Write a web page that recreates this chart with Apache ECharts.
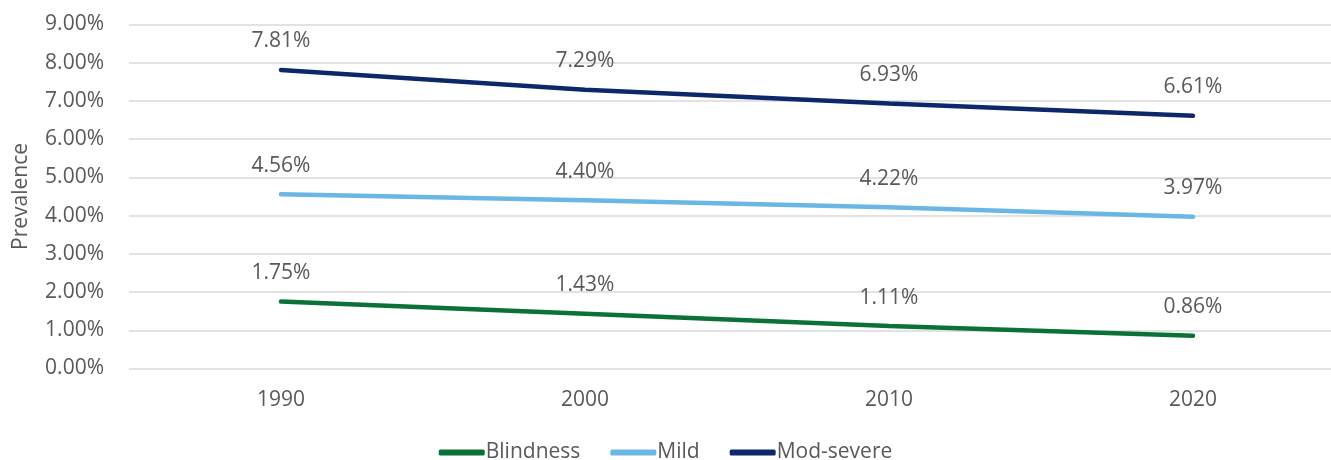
<!DOCTYPE html>
<html><head><meta charset="utf-8">
<script src="https://cdn.jsdelivr.net/npm/echarts@6/dist/echarts.min.js"></script>
<style>html,body{margin:0;padding:0;background:#fff}#c{width:1331px;height:460px}</style>
</head><body><div id="c"></div>
<script>
const categories = ['1990', '2000', '2010', '2020'];
const blindness = [1.75, 1.43, 1.11, 0.86];
const mild = [4.56, 4.40, 4.22, 3.97];
const modSevere = [7.81, 7.29, 6.93, 6.61];
const seriesNames = ['Blindness', 'Mild', 'Mod-severe'];
const colors = ['#0B7137', '#6AB7E6', '#0D276B'];
const FONT = '"Open Sans", "Noto Sans", sans-serif';
const TXT = '#595959';
const FS = 21;
const chart = echarts.init(document.getElementById('c'), null, {renderer: 'canvas'});
function mk(name, data, color) {
  return {
    name, type: 'line', data, symbol: 'circle', symbolSize: 2, showSymbol: true, smooth: false,
    lineStyle: {width: 4.5, color, cap: 'round'}, itemStyle: {color},
    label: {show: true, position: 'top', distance: 17, color: TXT, fontFamily: FONT, fontSize: FS,
      formatter: p => p.value.toFixed(2) + '%'},
    labelLayout: {hideOverlap: false}
  };
}
chart.setOption({
  animation: false,
  color: colors,
  grid: {left: 129, width: 1216, top: 24.5, bottom: 91.5, containLabel: false, outerBoundsMode: 'none'},
  legend: {
    top: 437, left: 'center', itemWidth: 46, itemHeight: 6, itemGap: 30,
    icon: 'roundRect',
    textStyle: {color: TXT, fontFamily: FONT, fontSize: FS, padding: [0, 0, 0, -4]},
    data: seriesNames
  },
  xAxis: {
    type: 'category', data: categories, boundaryGap: true,
    axisLine: {show: false}, axisTick: {show: false},
    axisLabel: {color: TXT, fontFamily: FONT, fontSize: FS, margin: 21}
  },
  yAxis: {
    type: 'value', min: 0, max: 9, interval: 1,
    name: 'Prevalence', nameLocation: 'middle', nameGap: 97, nameRotate: 90,
    nameTextStyle: {color: TXT, fontFamily: FONT, fontSize: FS},
    axisLine: {show: false}, axisTick: {show: false},
    axisLabel: {color: TXT, fontFamily: FONT, fontSize: FS, margin: 25, formatter: v => v.toFixed(2) + '%'},
    splitLine: {lineStyle: {color: '#D9D9D9', width: 1.5}}
  },
  series: [mk(seriesNames[0], blindness, colors[0]), mk(seriesNames[1], mild, colors[1]), mk(seriesNames[2], modSevere, colors[2])]
});
</script></body></html>
